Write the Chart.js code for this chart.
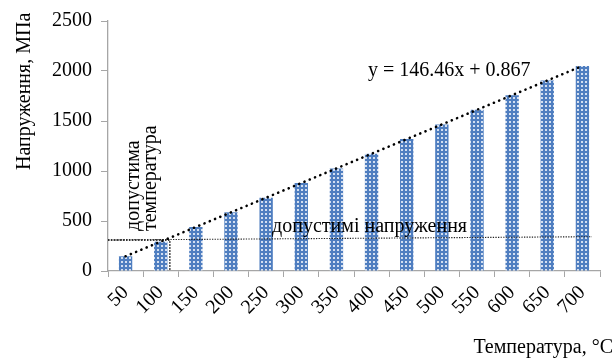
<!DOCTYPE html>
<html>
<head>
<meta charset="utf-8">
<script src="https://cdn.jsdelivr.net/npm/chart.js@4/dist/chart.umd.min.js"></script>
<style>
  html, body { margin: 0; padding: 0; background: #fff; }
  #wrap { width: 616px; height: 358px; }
</style>
</head>
<body>
<div id="wrap"><canvas id="c" width="616" height="358"></canvas></div>
<script>
// Temperature categories, °C
const temperatures = ['50', '100', '150', '200', '250', '300', '350', '400', '450', '500', '550', '600', '650', '700'];
// Stress at each temperature, MPa
const stresses = [147, 293, 440, 587, 733, 880, 1026, 1173, 1319, 1465, 1612, 1758, 1905, 2051];
// Linear trend, y = a·x + b with x = 1..14
const trendSlope = 146.46;
const trendIntercept = 0.867;
// Allowable stress line (start / end), MPa
const allowableStress = [310, 343];
// Allowable temperature marker position (category index) and level, MPa
const allowableTempIndex = 1.26;
const allowableTempLevel = 310;
// Y axis ticks
const yTicks = [0, 500, 1000, 1500, 2000, 2500];

const FONT = '"Liberation Serif", "Times New Roman", serif';
const AXIS_GREY = '#A6A6A6';

// Dotted blue fill for the bars
function makePattern() {
  const p = document.createElement('canvas');
  p.width = 4; p.height = 4;
  const g = p.getContext('2d');
  g.fillStyle = '#4F7EC0';
  g.fillRect(0, 0, 4, 4);
  g.fillStyle = '#D3DFF1';
  g.fillRect(1, 1, 2, 2);
  return document.getElementById('c').getContext('2d').createPattern(p, 'repeat');
}

const trendPoints = temperatures.map((_, i) => ({ x: i, y: trendSlope * (i + 1) + trendIntercept }));
const lastIdx = temperatures.length - 1;

// Free text: axis titles, equation and annotations
const labelsPlugin = {
  id: 'labels',
  afterDraw(chart) {
    const { ctx } = chart;
    const xs = chart.scales.xl, ys = chart.scales.y;
    ctx.save();
    ctx.fillStyle = '#000';
    ctx.font = '20px ' + FONT;
    ctx.textBaseline = 'alphabetic';

    // Y axis title
    ctx.save();
    ctx.translate(30, 170);
    ctx.rotate(-Math.PI / 2);
    ctx.textAlign = 'left';
    ctx.fillText('Напруження, МПа', 0, 0);
    ctx.restore();

    // X axis title
    ctx.textAlign = 'right';
    ctx.fillText('Температура, °C', 613, 353);

    // Trend equation
    ctx.textAlign = 'left';
    ctx.fillText('y = ' + trendSlope.toFixed(2) + 'x + ' + trendIntercept.toFixed(3), xs.getPixelForValue(6.9), ys.getPixelForValue(1950));

    // Allowable stress caption
    ctx.fillText('допустимі напруження', xs.getPixelForValue(4.17), ys.getPixelForValue(390));

    // Allowable temperature caption (vertical)
    ctx.save();
    ctx.translate(xs.getPixelForValue(0.38), ys.getPixelForValue(400));
    ctx.rotate(-Math.PI / 2);
    ctx.fillText('допустима', 0, 0);
    ctx.restore();
    ctx.save();
    ctx.translate(xs.getPixelForValue(0.88), ys.getPixelForValue(400));
    ctx.rotate(-Math.PI / 2);
    ctx.fillText('температура', 0, 0);
    ctx.restore();

    ctx.restore();
  }
};

new Chart(document.getElementById('c'), {
  type: 'bar',
  data: {
    labels: temperatures,
    datasets: [
      {
        label: 'Напруження',
        data: stresses,
        backgroundColor: makePattern(),
        borderWidth: 0,
        grouped: false,
        categoryPercentage: 1,
        barPercentage: 0.38,
        order: 3
      },
      {
        type: 'line',
        label: 'Лінійний тренд',
        xAxisID: 'xl',
        data: trendPoints,
        borderColor: '#000',
        borderWidth: 2.6,
        borderDash: [0.1, 5.6],
        borderCapStyle: 'round',
        pointRadius: 0,
        fill: false,
        order: 1
      },
      {
        type: 'line',
        label: 'допустимі напруження',
        xAxisID: 'xl',
        data: [{ x: -0.5, y: allowableStress[0] }, { x: 13.27, y: allowableStress[1] }],
        borderColor: '#222',
        borderWidth: 1.1,
        borderDash: [1.3, 1.3],
        pointRadius: 0,
        fill: false,
        order: 2
      },
      {
        type: 'line',
        label: 'допустима температура',
        xAxisID: 'xl',
        data: [{ x: -0.5, y: allowableTempLevel }, { x: allowableTempIndex, y: allowableTempLevel }, { x: allowableTempIndex, y: 0 }],
        borderColor: '#000',
        borderWidth: 1.4,
        borderDash: [1.5, 1.5],
        pointRadius: 0,
        fill: false,
        order: 2
      }
    ]
  },
  options: {
    responsive: false,
    animation: false,
    devicePixelRatio: 1,
    layout: { padding: { top: 21, right: 16, left: 0, bottom: 0 } },
    plugins: { legend: { display: false }, tooltip: { enabled: false } },
    scales: {
      x: {
        type: 'category',
        offset: true,
        afterFit(s) { s.height = 87; },
        grid: { display: true, drawOnChartArea: false, drawTicks: true, tickLength: 6, color: AXIS_GREY, offset: true },
        border: { display: true, color: AXIS_GREY, width: 1.3 },
        ticks: { color: '#000', font: { family: FONT, size: 20 }, minRotation: 45, maxRotation: 45, padding: 4, autoSkip: false }
      },
      xl: {
        type: 'linear',
        display: false,
        offset: false,
        grid: { offset: false },
        min: -0.5,
        max: lastIdx + 0.5
      },
      y: {
        min: 0,
        max: 2500,
        afterFit(s) { s.width = 108; },
        afterBuildTicks(s) { s.ticks = yTicks.map(v => ({ value: v })); },
        grid: { display: true, drawOnChartArea: false, drawTicks: true, tickLength: 7, color: AXIS_GREY },
        border: { display: true, color: AXIS_GREY, width: 1.3 },
        ticks: { color: '#000', font: { family: FONT, size: 20 }, padding: 9, callback: v => String(v) }
      }
    }
  },
  plugins: [labelsPlugin]
});
</script>
</body>
</html>
